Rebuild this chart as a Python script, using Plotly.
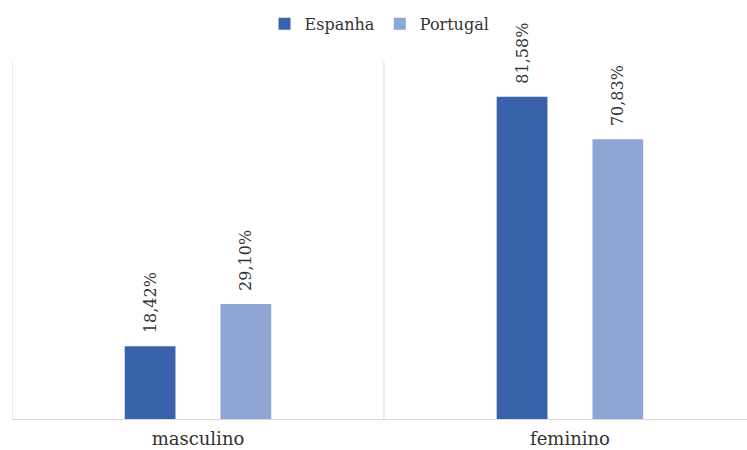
import plotly.graph_objects as go

categories = ["masculino", "feminino"]
espanha = [18.42, 81.58]
portugal = [29.10, 70.83]
series_names = ["Espanha", "Portugal"]
colors = ["#3a62ab", "#8fa5d4"]

SERIF = "DejaVu Serif"

def pct(v):
    # non-breaking spaces keep the label clear of the bar top
    return "\u00a0\u00a0" + f"{v:.2f}%".replace(".", ",")

fig = go.Figure()
for name, vals, col in zip(series_names, [espanha, portugal], colors):
    fig.add_trace(go.Bar(
        x=categories, y=vals, name=name, marker_color=col,
        marker_line_width=0,
        text=[pct(v) for v in vals], textposition="outside",
        textangle=-90, cliponaxis=False, constraintext="none",
        textfont=dict(family=SERIF, size=16, color="#333333"),
    ))

# separators at the category boundaries
for b in [-0.5, 0.5]:
    fig.add_shape(type="line", xref="x", yref="paper", x0=b, x1=b, y0=0, y1=1,
                  line=dict(color="#d9d9d9", width=1), layer="below")

fig.update_layout(
    width=747, height=450,
    margin=dict(l=12, r=0, t=62, b=31),
    paper_bgcolor="white", plot_bgcolor="white",
    barmode="group", bargap=0.485, bargroupgap=0.47,
    font=dict(family=SERIF, size=16, color="#333333"),
    legend=dict(orientation="h", x=0.5, xanchor="center", y=0.985, yanchor="top",
                yref="container", font=dict(family=SERIF, size=16, color="#333333"),
                itemwidth=30, traceorder="normal"),
    xaxis=dict(range=[-0.5, 1.476], showgrid=False, showline=True,
               linecolor="#d9d9d9", linewidth=1, ticks="", ticklen=0,
               ticklabelstandoff=3, automargin=False,
               tickfont=dict(family=SERIF, size=18, color="#333333")),
    yaxis=dict(range=[0, 90.4], visible=False, showgrid=False, zeroline=False),
)

fig.write_html("out.html")
